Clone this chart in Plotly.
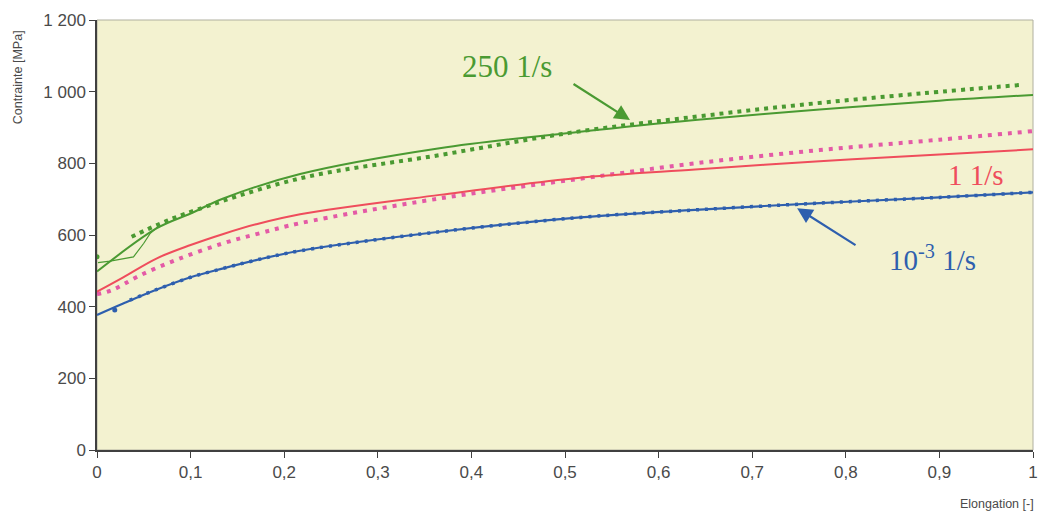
import plotly.graph_objects as go

# ---------------- data ----------------
# model curves (solid)
fit_250_x = [0, 0.064, 0.1, 0.135, 0.217, 0.366, 0.516, 0.639, 0.772, 0.9, 1.0]
fit_250_y = [498, 619, 660, 702, 770, 842, 888, 921, 950, 975, 991]

fit_1_x = [0, 0.028, 0.064, 0.1, 0.135, 0.17, 0.217, 0.366, 0.516, 0.639, 0.772, 0.9, 1.0]
fit_1_y = [442, 482, 535, 572, 603, 630, 658, 712, 760, 783, 806, 825, 839]

fit_1e3_x = [0, 0.028, 0.064, 0.1, 0.135, 0.17, 0.217, 0.366, 0.516, 0.639, 0.772, 0.9, 1.0]
fit_1e3_y = [377, 409, 448, 482, 507, 530, 556, 609, 649, 670, 689, 705, 719]

# experimental curves (dotted)
exp_250_x = [0.037, 0.066, 0.095, 0.217, 0.366, 0.505, 0.639, 0.751, 0.88, 0.988]
exp_250_y = [595, 630, 660, 758, 823, 885, 930, 963, 995, 1019]
exp_250_first_x = [0]
exp_250_first_y = [539]
raw_250_x = [0.001, 0.014, 0.039, 0.05, 0.057, 0.066]
raw_250_y = [523, 527, 539, 577, 605, 625]

exp_1_x = [0, 0.016, 0.045, 0.086, 0.135, 0.174, 0.217, 0.366, 0.516, 0.639, 0.772, 0.9, 1.0]
exp_1_y = [435, 446, 486, 532, 577, 605, 633, 702, 757, 800, 837, 866, 890]

exp_1e3_first_x = [0.019]
exp_1e3_first_y = [391]
exp_1e3_x = [0.035, 0.064, 0.1, 0.135, 0.17, 0.217, 0.366, 0.516, 0.639, 0.772, 0.9, 1.0]
exp_1e3_y = [418, 448, 482, 507, 530, 556, 609, 649, 670, 689, 705, 719]

x_ticks = [0, 0.1, 0.2, 0.3, 0.4, 0.5, 0.6, 0.7, 0.8, 0.9, 1.0]
x_tick_text = ["0", "0,1", "0,2", "0,3", "0,4", "0,5", "0,6", "0,7", "0,8", "0,9", "1"]
y_ticks = [0, 200, 400, 600, 800, 1000, 1200]
y_tick_text = ["0", "200", "400", "600", "800", "1 000", "1 200"]

GREEN = "#4a9a32"
RED = "#ef4d5c"
PINK = "#e45aa6"
BLUE = "#2e5fae"
GREY = "#4a4a4a"

fig = go.Figure()

fig.add_trace(go.Scatter(x=raw_250_x, y=raw_250_y, mode="lines",
                         line=dict(color=GREEN, width=1.2)))
fig.add_trace(go.Scatter(x=exp_250_x, y=exp_250_y, mode="lines",
                         line=dict(color=GREEN, width=4, dash="4px,5px", shape="spline")))
fig.add_trace(go.Scatter(x=exp_250_first_x, y=exp_250_first_y, mode="markers",
                         marker=dict(color=GREEN, size=5)))
fig.add_trace(go.Scatter(x=fit_250_x, y=fit_250_y, mode="lines",
                         line=dict(color=GREEN, width=2, shape="spline")))

fig.add_trace(go.Scatter(x=exp_1_x, y=exp_1_y, mode="lines",
                         line=dict(color=PINK, width=4, dash="4px,6px", shape="spline")))
fig.add_trace(go.Scatter(x=fit_1_x, y=fit_1_y, mode="lines",
                         line=dict(color=RED, width=2, shape="spline")))

fig.add_trace(go.Scatter(x=exp_1e3_first_x, y=exp_1e3_first_y, mode="markers",
                         marker=dict(color=BLUE, size=5)))
fig.add_trace(go.Scatter(x=exp_1e3_x, y=exp_1e3_y, mode="lines",
                         line=dict(color=BLUE, width=3.5, dash="3px,6px", shape="spline")))
fig.add_trace(go.Scatter(x=fit_1e3_x, y=fit_1e3_y, mode="lines",
                         line=dict(color=BLUE, width=2.2, shape="spline")))

serif = "Liberation Serif, Times New Roman, serif"
sans = "Liberation Sans, Arial, sans-serif"
fig.add_annotation(x=0.438, y=1069, xref="x", yref="y", text="250 1/s", showarrow=False,
                   font=dict(family=serif, size=31, color=GREEN))
fig.add_annotation(x=0.5694, y=921, ax=0.5075, ay=1024, xref="x", yref="y", axref="x", ayref="y",
                   text="", showarrow=True, arrowhead=2, arrowsize=1.4, arrowwidth=2.2,
                   arrowcolor=GREEN)
fig.add_annotation(x=0.939, y=767, xref="x", yref="y", text="1 1/s", showarrow=False,
                   font=dict(family=serif, size=29, color=RED))
fig.add_annotation(x=0.893, y=536, xref="x", yref="y", text="10<sup>-3</sup> 1/s", showarrow=False,
                   font=dict(family=serif, size=29, color=BLUE))
fig.add_annotation(x=0.748, y=675, ax=0.812, ay=569, xref="x", yref="y", axref="x", ayref="y",
                   text="", showarrow=True, arrowhead=2, arrowsize=1.4, arrowwidth=2.2,
                   arrowcolor=BLUE)

fig.add_annotation(xref="paper", yref="paper", x=-0.0844, y=0.867, xanchor="center", yanchor="middle",
                   text="Contrainte [MPa]", showarrow=False, textangle=-90,
                   font=dict(family=sans, size=12.5, color=GREY))
fig.add_annotation(xref="paper", yref="paper", x=0.9615, y=-0.1256, xanchor="center", yanchor="middle",
                   text="Elongation [-]", showarrow=False,
                   font=dict(family=sans, size=12.5, color=GREY))

fig.update_layout(
    width=1038, height=511,
    margin=dict(l=97, r=5, t=20, b=61, autoexpand=False),
    paper_bgcolor="white",
    plot_bgcolor="#f3f2d0",
    showlegend=False,
    font=dict(family=sans, size=17, color=GREY),
)
fig.update_xaxes(range=[0, 1], tickvals=x_ticks, ticktext=x_tick_text, automargin=False,
                 showgrid=False, zeroline=False, showline=True, linecolor="#404040", linewidth=1.5,
                 ticks="outside", ticklen=6, tickcolor="#404040",
                 tickfont=dict(family=sans, size=17, color=GREY))
fig.update_yaxes(range=[0, 1200], tickvals=y_ticks, ticktext=y_tick_text, automargin=False,
                 showgrid=False, zeroline=False, showline=True, linecolor="#404040", linewidth=1.5,
                 ticks="outside", ticklen=6, tickcolor="#404040",
                 tickfont=dict(family=sans, size=17, color=GREY))
fig.add_shape(type="rect", xref="paper", yref="paper", x0=0, y0=0, x1=1, y1=1,
              line=dict(color="#b0b0a0", width=1), layer="below")

fig.write_html("out.html", config={"displayModeBar": False},
               post_script="document.body.style.margin='0';document.body.style.overflow='hidden';")
